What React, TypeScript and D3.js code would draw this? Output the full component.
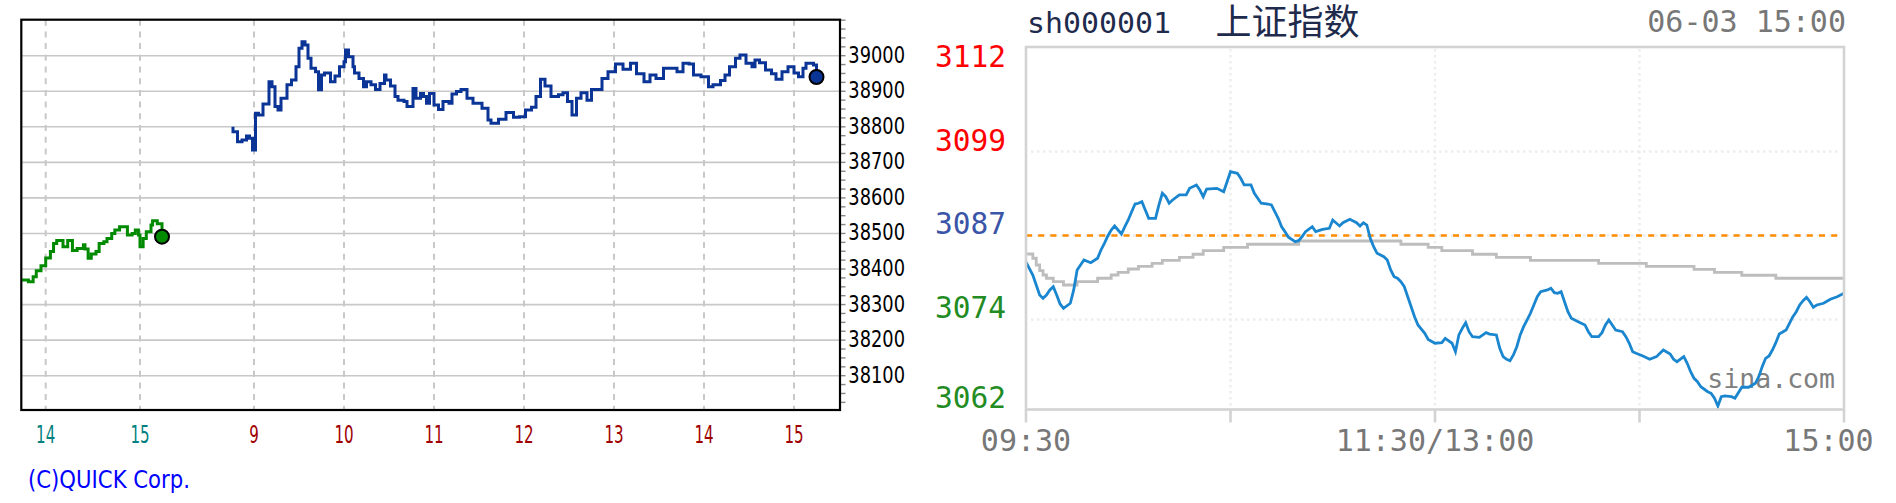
import React from 'react';
import * as d3 from 'd3';

// ---------- Nikkei (QUICK) : [minutes from 15:00 prev day, price] ----------
const nikkeiPrevDay: [number, number][] = [
  [-75, 38369], [-71, 38364], [-68, 38378], [-66, 38395], [-63, 38409], [-60, 38431], [-57, 38449],
  [-55, 38472], [-53, 38480], [-51, 38480], [-49, 38463], [-46, 38480], [-43, 38452], [-40, 38458],
  [-36, 38468], [-35, 38456], [-33, 38430], [-31, 38442], [-28, 38449], [-26, 38472], [-23, 38477],
  [-21, 38486], [-18, 38500], [-16, 38510], [-13, 38519], [-10, 38519], [-8, 38496], [-5, 38500],
  [-3, 38510], [-1, 38496], [0, 38463], [2, 38486], [4, 38505], [7, 38524], [8, 38536], [11, 38527],
  [14, 38491],
];

// [minutes from 09:00 today, price]
const nikkeiToday: [number, number][] = [
  [-15, 38796], [-14, 38786], [-11, 38758], [-8, 38763], [-5, 38774], [-3, 38768], [-1, 38735],
  [1, 38838], [3, 38833], [6, 38864], [10, 38927], [12, 38913], [14, 38857], [16, 38847], [18, 38880],
  [22, 38918], [25, 38932], [28, 38969], [30, 39021], [32, 39039], [34, 39030], [36, 38993], [38, 38965],
  [41, 38955], [43, 38904], [45, 38946], [47, 38951], [51, 38927], [54, 38943], [57, 38969], [60, 38983],
  [61, 39016], [63, 38997], [66, 38969], [67, 38951], [70, 38936], [73, 38913], [75, 38927], [78, 38918],
  [81, 38905], [84, 38922], [87, 38946], [88, 38932], [91, 38915], [94, 38885], [96, 38875], [100, 38871],
  [102, 38857], [106, 38908], [108, 38880], [111, 38894], [113, 38885], [115, 38866], [117, 38894],
  [120, 38861], [123, 38849], [126, 38871], [130, 38866], [132, 38892], [135, 38899], [138, 38905],
  [142, 38880], [146, 38866], [152, 38852], [156, 38819], [158, 38810], [163, 38821], [168, 38840],
  [173, 38827], [177, 38828], [181, 38847], [185, 38855], [188, 38885], [191, 38934], [194, 38915],
  [198, 38885], [203, 38890], [206, 38896], [209, 38871], [212, 38833], [215, 38880], [218, 38896],
  [222, 38875], [225, 38905], [230, 38905], [232, 38936], [236, 38955], [241, 38977], [246, 38962],
  [251, 38979], [255, 38949], [260, 38927], [264, 38946], [268, 38936], [273, 38965], [277, 38965],
  [282, 38955], [286, 38979], [290, 38977], [293, 38946], [298, 38941], [303, 38913], [306, 38918],
  [311, 38930], [314, 38946], [317, 38969], [321, 38993], [324, 39002], [328, 38979], [332, 38969],
  [334, 38988], [337, 38980], [341, 38960], [345, 38949], [348, 38934], [352, 38955], [356, 38969],
  [360, 38951], [363, 38941], [366, 38965], [368, 38979], [373, 38974], [375, 38940],
];

const nikkeiYTicks = [38100, 38200, 38300, 38400, 38500, 38600, 38700, 38800, 38900, 39000];
const nikkeiPrevHours = [14, 15];
const nikkeiTodayHours = [9, 10, 11, 12, 13, 14, 15];
const quickCredit = '(C)QUICK Corp.';

// ---------- SSE Composite (sina) : [minutes of trading from 09:30, price] ----------
const sseSeries: [number, number][] = [
  [0, 3082.9], [2, 3081.0], [3, 3079.53], [4, 3078.06], [5, 3077.57], [6, 3078.06], [7, 3078.8], [8, 3079.28],
  [9, 3078.06], [10, 3076.74], [11, 3076.1], [13, 3076.84], [14, 3078.8], [15, 3081.74], [16, 3082.47],
  [17, 3083.21], [19, 3082.81], [21, 3083.46], [22, 3084.68], [23, 3085.66], [24, 3086.74], [25, 3087.62],
  [26, 3088.21], [27, 3087.62], [28, 3087.03], [29, 3088.1], [30, 3089.09], [31, 3090.31], [32, 3091.44],
  [33, 3091.55], [34, 3091.78], [35, 3090.56], [36, 3089.34], [38, 3089.34], [39, 3091.3], [40, 3093.02],
  [41, 3092.52], [42, 3091.55], [43, 3092.03], [45, 3092.77], [47, 3092.77], [48, 3093.75], [50, 3094.24],
  [51, 3093.5], [52, 3092.52], [53, 3093.65], [56, 3093.75], [58, 3093.25], [59, 3094.72], [60, 3096.19],
  [62, 3095.96], [63, 3095.22], [64, 3094.24], [66, 3094.24], [67, 3093.02], [69, 3091.55], [71, 3091.44],
  [72, 3091.3], [73, 3090.31], [74, 3089.34], [75, 3088.1], [76, 3087.37], [77, 3086.55], [79, 3085.9],
  [80, 3086.05], [81, 3086.63], [82, 3087.37], [84, 3088.1], [85, 3087.37], [87, 3087.72], [89, 3087.87],
  [90, 3089.09], [92, 3088.21], [93, 3088.69], [95, 3089.19], [97, 3088.69], [98, 3088.21], [99, 3088.69],
  [100, 3088.35], [101, 3086.4], [102, 3085.16], [103, 3084.19], [105, 3083.69], [106, 3083.21],
  [107, 3081.74], [108, 3080.75], [109, 3080.52], [110, 3080.02], [111, 3079.28], [112, 3077.81],
  [113, 3076.34], [114, 3074.87], [115, 3073.65], [117, 3072.43], [118, 3071.52], [120, 3070.96],
  [122, 3071.05], [123, 3071.69], [125, 3070.96], [126, 3069.72], [127, 3072.18], [128, 3073.16],
  [129, 3073.99], [130, 3072.66], [131, 3071.93], [133, 3071.84], [135, 3072.52], [136, 3072.32],
  [138, 3072.18], [139, 3070.22], [140, 3068.99], [141, 3068.6], [142, 3068.4], [143, 3069.24],
  [144, 3070.46], [145, 3072.18], [146, 3073.4], [147, 3074.38], [148, 3075.37], [149, 3076.59],
  [150, 3077.81], [151, 3078.55], [153, 3078.8], [154, 3079.05], [155, 3078.4], [156, 3078.31],
  [157, 3078.55], [158, 3077.07], [159, 3075.6], [160, 3074.63], [162, 3074.13], [164, 3073.65],
  [165, 3072.66], [166, 3071.93], [168, 3071.93], [169, 3072.52], [170, 3073.65], [171, 3074.38],
  [172, 3073.65], [173, 3072.91], [175, 3072.66], [176, 3071.93], [177, 3070.96], [178, 3069.72],
  [179, 3069.49], [181, 3069.09], [183, 3068.6], [185, 3068.99], [186, 3069.49], [187, 3069.97],
  [189, 3069.38], [190, 3068.6], [191, 3068.25], [193, 3068.99], [194, 3068.02], [195, 3066.78],
  [196, 3065.81], [197, 3065.31], [198, 3064.57], [200, 3063.84], [201, 3063.6], [202, 3062.87],
  [203, 3061.74], [204, 3063.1], [205, 3063.21], [207, 3063.1], [208, 3062.87], [209, 3063.69],
  [210, 3064.49], [212, 3064.49], [214, 3065.07], [215, 3066.05], [216, 3067.52], [217, 3068.75],
  [218, 3069.09], [219, 3069.97], [220, 3071.05], [221, 3072.32], [223, 3072.91], [224, 3073.9],
  [225, 3074.87], [226, 3075.6], [227, 3076.59], [228, 3077.22], [229, 3077.72], [230, 3077.07],
  [231, 3076.25], [232, 3076.59], [234, 3076.84], [236, 3077.43], [238, 3077.81], [240, 3078.3],
];

const sseAverage: [number, number][] = [
  [0, 3084.09], [2, 3083.46], [3, 3082.47], [4, 3081.63], [5, 3081.0], [6, 3080.52], [8, 3080.02],
  [11, 3079.53], [15, 3080.02], [21, 3080.52], [25, 3081.0], [27, 3081.4], [30, 3081.88], [33, 3082.28],
  [37, 3082.72], [40, 3083.16], [45, 3083.6], [49, 3084.05], [52, 3084.57], [58, 3085.07], [65, 3085.52],
  [80, 3086.0], [110, 3085.52], [118, 3085.07], [122, 3084.57], [131, 3084.05], [138, 3083.6],
  [148, 3083.16], [168, 3082.72], [182, 3082.28], [196, 3081.84], [202, 3081.4], [210, 3080.96],
  [220, 3080.52], [240, 3080.52],
];

const ssePrevClose = 3086.81;
const sseLevels = [3111.51, 3099.16, 3086.81, 3074.46, 3062.11];
const sseLevelLabels = ['3112', '3099', '3087', '3074', '3062'];
const sseGridLevels = [3099.16, 3086.81, 3074.46];
const sseTickMinutes = [0, 60, 120, 180, 240];
const sseGridMinutes = [60, 120, 180];
const sseTimeLabels = ['09:30', '11:30/13:00', '15:00'];
const sseTimeLabelMinutes = [0, 120, 240];
const sseCode = 'sh000001';
const sseName = '上证指数';
const sseStamp = '06-03 15:00';
const sseWatermark = 'sina.com';

// styles
const levelColors = ['#ff0000', '#ff0000', '#3a55a8', '#228b22', '#228b22'];
const MONO = '"DejaVu Sans Mono", "Liberation Mono", monospace';
const SANS = '"DejaVu Sans", "Liberation Sans", sans-serif';

export default function App() {
  // ---- left chart scales ----
  const L = { x0: 21.3, x1: 840, y0: 19.7, y1: 410 };
  const xPrev = d3.scaleLinear().domain([-60, 0]).range([45.7, 140]);
  const xToday = d3.scaleLinear().domain([0, 360]).range([254, 794]);
  const yL = d3.scaleLinear().domain([38003.5, 39101.25]).range([L.y1, L.y0]);

  const prevLine = d3.line<[number, number]>().x(d => xPrev(d[0])).y(d => yL(d[1])).curve(d3.curveStepAfter);
  const todayLine = d3.line<[number, number]>().x(d => xToday(d[0])).y(d => yL(d[1])).curve(d3.curveStepAfter);
  const minorTicks = d3.range(38025, 39101, 25);
  const hourXs = [
    ...nikkeiPrevHours.map(h => ({ x: xPrev((h - 15) * 60), label: String(h), color: '#008080' })),
    ...nikkeiTodayHours.map(h => ({ x: xToday((h - 9) * 60), label: String(h), color: '#a00000' })),
  ];
  const prevLast = nikkeiPrevDay[nikkeiPrevDay.length - 1];
  const todayLast = nikkeiToday[nikkeiToday.length - 1];

  // ---- right chart scales ----
  const R = { x0: 1026, x1: 1844, y0: 47, y1: 409.5 };
  const xR = d3.scaleLinear().domain([0, 240]).range([R.x0, R.x1]);
  const yR = d3.scaleLinear().domain([3061.22, 3114.53]).range([R.y1, R.y0]);
  const sseLine = d3.line<[number, number]>().x(d => xR(d[0])).y(d => yR(d[1]));
  const avgLine = d3.line<[number, number]>().x(d => xR(d[0])).y(d => yR(d[1])).curve(d3.curveStepAfter);

  return (
    <svg width={1896} height={503} style={{ position: 'absolute', left: 0, top: 0, background: '#fff' }}>
      <defs>
        <clipPath id="lclip">
          <rect x={L.x0} y={L.y0} width={L.x1 - L.x0} height={L.y1 - L.y0} />
        </clipPath>
      </defs>
      <rect x={0} y={0} width={1896} height={503} fill="#fff" />

      {/* ================= LEFT CHART ================= */}
      {nikkeiYTicks.map(v => (
        <line key={'hg' + v} x1={L.x0} x2={L.x1} y1={yL(v)} y2={yL(v)} stroke="#c8c8c8" strokeWidth={1.6} />
      ))}
      {hourXs.map((h, i) => (
        <line key={'vg' + i} x1={h.x} x2={h.x} y1={L.y0} y2={L.y1} stroke="#c8c8c8" strokeWidth={2} strokeDasharray="6,5.7" />
      ))}
      {minorTicks.map(v => (
        <line key={'mt' + v} x1={L.x1} x2={L.x1 + 5.5} y1={yL(v)} y2={yL(v)} stroke="#888" strokeWidth={1.4} />
      ))}
      <g clipPath="url(#lclip)">
        <path d={prevLine(nikkeiPrevDay) || ''} fill="none" stroke="#008a00" strokeWidth={3} />
        <path d={todayLine(nikkeiToday) || ''} fill="none" stroke="#0a3596" strokeWidth={3} />
      </g>
      <circle cx={xPrev(prevLast[0])} cy={yL(prevLast[1])} r={7} fill="#008a00" stroke="#000" strokeWidth={2} />
      <circle cx={xToday(todayLast[0])} cy={yL(todayLast[1])} r={7} fill="#0a3596" stroke="#000" strokeWidth={2} />
      <rect x={L.x0} y={L.y0} width={L.x1 - L.x0} height={L.y1 - L.y0} fill="none" stroke="#000" strokeWidth={2.2} />
      {nikkeiYTicks.map(v => (
        <text key={'yl' + v} x={848.3} y={yL(v) + 7} fontFamily={SANS} fontSize={23} fill="#000"
          textLength={56.7} lengthAdjust="spacingAndGlyphs">{v}</text>
      ))}
      {hourXs.map((h, i) => (
        <text key={'xl' + i} x={h.x} y={442.7} fontFamily={SANS} fontSize={24} fill={h.color} textAnchor="middle"
          textLength={h.label.length * 9.6} lengthAdjust="spacingAndGlyphs">{h.label}</text>
      ))}
      <text x={28} y={488.3} fontFamily={SANS} fontSize={24} fill="#0000ff" textLength={162} lengthAdjust="spacingAndGlyphs">
        {quickCredit}
      </text>

      {/* ================= RIGHT CHART ================= */}
      <text x={1027} y={33} fontFamily={MONO} fontSize={29} fill="#1f2b4d" textLength={144} lengthAdjust="spacingAndGlyphs">{sseCode}</text>
      <text x={1287.5} y={35} fontFamily='"Noto Sans CJK SC", sans-serif' fontSize={36} fill="#1f2b4d"
        textAnchor="middle">{sseName}</text>
      <text x={1846} y={32.3} fontFamily={MONO} fontSize={30} fill="#777" textAnchor="end">{sseStamp}</text>

      {sseGridLevels.map(v => (
        <line key={'rg' + v} x1={R.x0 + 5} x2={R.x1 - 4} y1={yR(v)} y2={yR(v)} stroke="#ededed" strokeWidth={2.4} strokeDasharray="2.5,3.5" />
      ))}
      {sseGridMinutes.map(m => (
        <line key={'rv' + m} x1={xR(m)} x2={xR(m)} y1={R.y0 + 2} y2={R.y1 - 2} stroke="#ededed" strokeWidth={2.4} strokeDasharray="2.5,3.5" />
      ))}
      <line x1={R.x0} x2={R.x1} y1={yR(ssePrevClose)} y2={yR(ssePrevClose)} stroke="#ff8c00" strokeWidth={2.6} strokeDasharray="6,6.2" />

      <text x={1835} y={388.3} fontFamily={MONO} fontSize={26.5} fill="#808080" textAnchor="end">{sseWatermark}</text>

      <path d={avgLine(sseAverage) || ''} fill="none" stroke="#bdbdbd" strokeWidth={2.8} />
      <path d={sseLine(sseSeries) || ''} fill="none" stroke="#1a86cf" strokeWidth={2.8} />

      <rect x={R.x0} y={R.y0} width={R.x1 - R.x0} height={R.y1 - R.y0} fill="none" stroke="#d3d3d3" strokeWidth={2.6} />
      {sseTickMinutes.map(m => (
        <line key={'rt' + m} x1={xR(m)} x2={xR(m)} y1={R.y1} y2={R.y1 + 13} stroke="#d3d3d3" strokeWidth={2.6} />
      ))}
      {sseLevels.map((v, i) => (
        <text key={'rl' + i} x={1006} y={i === sseLevels.length - 1 ? R.y1 - 2 : yR(v) - 1}
          fontFamily={MONO} fontSize={29.5} fill={levelColors[i]} textAnchor="end">{sseLevelLabels[i]}</text>
      ))}
      {sseTimeLabels.map((t, i) => {
        const w = t.length * 18.2;
        const cx = Math.min(xR(sseTimeLabelMinutes[i]), 1874 - w / 2);
        return (
          <text key={'rx' + i} x={cx} y={450.7} fontFamily={MONO} fontSize={30} fill="#777" textAnchor="middle">{t}</text>
        );
      })}
    </svg>
  );
}
